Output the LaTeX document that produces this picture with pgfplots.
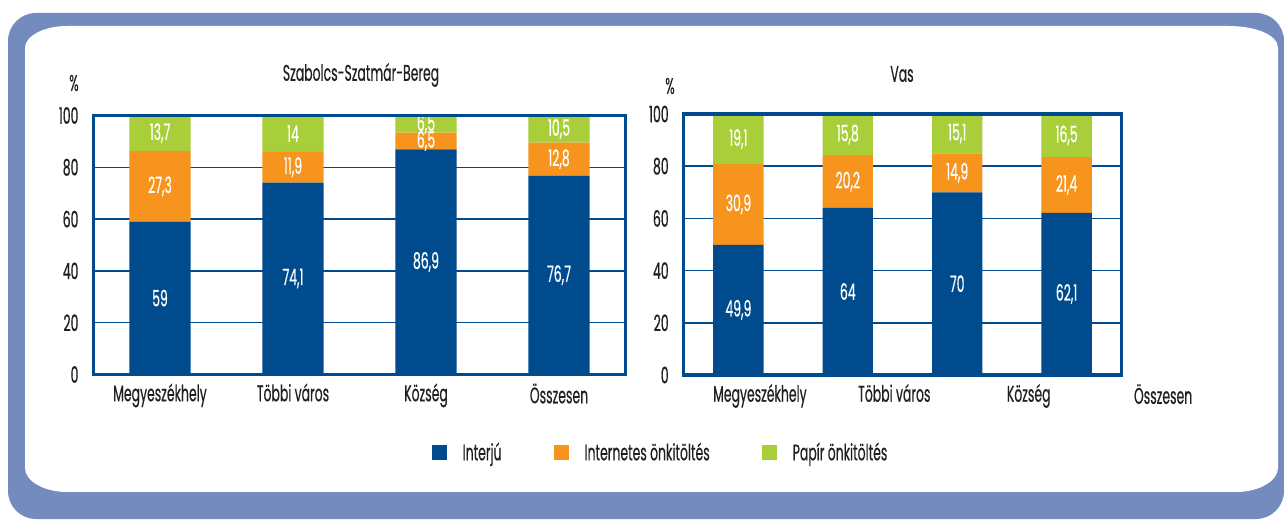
\documentclass[border=0pt]{standalone}
\usepackage{pgfplots}
\usepackage{pgfplotstable}
\pgfplotsset{compat=1.18}
\usepackage{fontspec}
\setmainfont{Poppins}[FakeStretch=0.55, FakeBold=0.4]
\definecolor{dblue}{HTML}{004B8D}
\definecolor{orng}{HTML}{F7941E}
\definecolor{lgreen}{HTML}{A8CE3A}
\definecolor{frameblue}{HTML}{748BBD}
\definecolor{txt}{HTML}{231F20}
\newcommand\lfont{\fontsize{11.3}{13}\selectfont}

\pgfplotstableread{
x int net pap
0 59   27.3 13.7
1 74.1 11.9 14
2 86.9 6.5  6.5
3 76.7 12.8 10.5
}\szsz
\pgfplotstableread{
x int net pap
0 49.9 30.9 19.1
1 64   20.2 15.8
2 70   14.9 15.1
3 62.1 21.4 16.5
}\vas

\pgfplotsset{
  mybar/.style={
    ybar stacked, bar width=0.46,
    xmin=-0.5, xmax=3.5, ymin=0, ymax=100,
    xtick={0,1,2,3}, xticklabels={Megyeszékhely,Többi város,Község,Összesen},
    ytick={0,20,...,100},
    major tick length=0pt,
    ymajorgrids, grid style={dblue, line width=0.75pt},
    axis line style={dblue, line width=1.75pt},
    scale only axis, anchor=south west,
    tick label style={font=\lfont, text=txt},
    yticklabel style={xshift=-4pt},
    xticklabel style={yshift=-1pt},
    /pgf/number format/assume math mode=true,
    point meta=explicit,
    nodes near coords={\pgfmathprintnumber[use comma,fixed,precision=1]{\pgfplotspointmeta}},
    every node near coord/.append style={font=\lfont, text=white, anchor=center},
  },
}

\begin{document}
\begin{tikzpicture}
\begin{scope}[shift={(0,259.5pt)}, x=0.5pt, y=-0.5pt]
\useasboundingbox (0,0) rectangle (1284,519);
\fill[frameblue, rounded corners=14pt] (8,13) rectangle (1284,519);
\fill[white] (25,48) .. controls (25,36) and (44,26) .. (67,26)
  -- (1228,26) .. controls (1256,26) and (1278,35) .. (1278,48)
  -- (1278,468) .. controls (1278,481) and (1259,492) .. (1236,492)
  -- (67,492) .. controls (44,492) and (25,481) .. (25,468) -- cycle;
\node[font=\lfont, text=txt] at (361,75) {Szabolcs-Szatmár-Bereg};
\node[font=\lfont, text=txt] at (902,74) {Vas};
\node[font=\lfont, text=txt] at (74,83) {\%};
\node[font=\lfont, text=txt] at (670,86) {\%};
\end{scope}

\begin{axis}[mybar, name=L, at={(46.75pt,72.25pt)}, width=266pt, height=129.5pt,
  legend style={at={(1.0677,-0.303)}, anchor=center, draw=none, fill=none,
    legend columns=3, font=\lfont, text=txt,
    /tikz/every odd column/.append style={column sep=6pt},
    /tikz/every even column/.append style={column sep=24pt}},
  legend image code/.code={\fill[#1,draw=none] (0pt,-3.75pt) rectangle (7.5pt,3.75pt);},
]
\addplot[fill=dblue, draw=none] table[x=x, y=int, meta=int] {\szsz};
\addplot[fill=orng, draw=none] table[x=x, y=net, meta=net] {\szsz};
\addplot[fill=lgreen, draw=none] table[x=x, y=pap, meta=pap] {\szsz};
\legend{Interjú, Internetes önkitöltés, Papír önkitöltés}
\end{axis}
\draw[dblue, line width=1.75pt] (L.south west) rectangle (L.north east);

\begin{axis}[mybar, name=R, at={(341.85pt,72pt)}, width=218.8pt, height=130.5pt,
  xticklabel style={xshift={(21.5+25*\ticknum)*0.5pt}}]
\addplot[fill=dblue, draw=none] table[x=x, y=int, meta=int] {\vas};
\addplot[fill=orng, draw=none] table[x=x, y=net, meta=net] {\vas};
\addplot[fill=lgreen, draw=none] table[x=x, y=pap, meta=pap] {\vas};
\end{axis}
\draw[dblue, line width=1.75pt] (R.south west) rectangle (R.north east);
\end{tikzpicture}
\end{document}
